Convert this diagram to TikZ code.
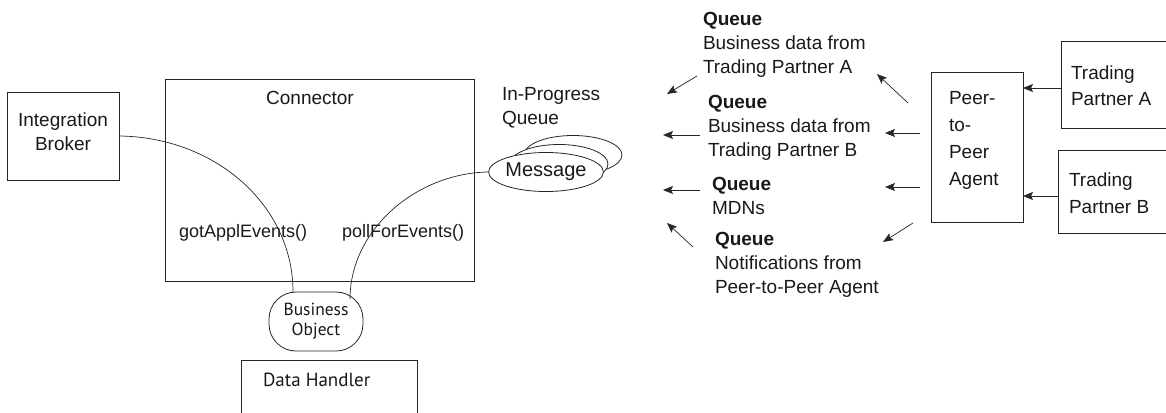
\documentclass[tikz,border=0pt]{standalone}
\usepackage{fontspec}
\setmainfont{Liberation Sans}
\newfontfamily\humfont{PT Sans}
\usetikzlibrary{arrows.meta,shapes.geometric}
\begin{document}
\begin{tikzpicture}[x=1pt,y=-1pt,
  every node/.style={inner sep=0pt, outer sep=0pt, text=black!90},
  txt/.style={font=\fontsize{19}{24}\selectfont, align=left, execute at begin node=\strut},
  box/.style={draw=black!85, line width=0.8pt},
  link/.style={draw=black!85, line width=0.7pt},
  arr/.style={link, -{Stealth[length=10pt,width=8pt,inset=2pt]}},
  msg/.style={ellipse, draw=black!85, line width=0.8pt, fill=white,
    minimum width=98pt, minimum height=39pt},
]
\useasboundingbox (0,0) rectangle (1166,412);
\clip (0,0) rectangle (1166,412);

% --- left part: broker, connector, business object, data handler
\node[box, minimum width=112pt, minimum height=88pt] (broker) at (63,136) {};
\node[txt, align=center, anchor=north] (brokerlbl) at (63,113.2) {Integration\\Broker};

\node[box, minimum width=309pt, minimum height=202pt] (conn) at (319.5,180) {};
\node[txt, anchor=north] (connlbl) at (310,87.2) {Connector};

\node[box, rounded corners=27pt, minimum width=94pt, minimum height=59pt,
      font=\humfont\fontsize{17.5}{20}\selectfont, align=center] (bo) at (316,321.5)
      {Business\\Object};

\node[box, minimum width=176pt, minimum height=70pt] (dh) at (329,395) {};
\node[font=\humfont\fontsize{19}{23}\selectfont, anchor=north west,
      execute at begin node=\strut] (dhlbl) at (263,370) {Data Handler};

\node[txt, font=\fontsize{18}{24}\selectfont, anchor=north west] (gae) at (179,220.2) {gotApplEvents()};
\node[txt, font=\fontsize{18}{24}\selectfont, anchor=north west] (pfe) at (342,220.2) {pollForEvents()};

% --- in-progress queue with stacked messages
\node[txt, anchor=north west] (ipq) at (502,87.2) {In-Progress\\Queue};
\node[msg] (m3) at (573,155) {};
\node[msg] (m2) at (559,164) {};
\node[msg, font=\fontsize{20}{24}\selectfont] (m1) at (546,172) {Message};

% --- call paths between broker, business object and message queue
\coordinate (bo-l) at ([xshift=-23pt]bo.north);
\coordinate (bo-r) at ([xshift=34pt,yshift=-7pt]bo.north);
\draw[link] (broker.east) .. controls (215,137) and (293,205) .. (bo-l);
\draw[link] (bo-r) .. controls (350,230) and (416,173) .. (m1.west);

% --- right part: queues, agent, trading partners
\node[txt, anchor=north west] (q1) at (703,12.2)
  {\textbf{Queue}\\Business data from\\Trading Partner A};
\node[txt, anchor=north west] (q2) at (708,95.2)
  {\textbf{Queue}\\Business data from\\Trading Partner B};
\node[txt, anchor=north west] (q3) at (712,177.2)
  {\textbf{Queue}\\MDNs};
\node[txt, anchor=north west] (q4) at (715,232.2)
  {\textbf{Queue}\\Notifications from\\Peer-to-Peer Agent};

\node[box, minimum width=92pt, minimum height=150pt] (agent) at (977,147) {};
\node[txt, font=\fontsize{19}{27}\selectfont, anchor=north west] (agentlbl) at (949,91.1)
  {Peer-\\to-\\Peer\\Agent};

\node[box, minimum width=119pt, minimum height=87pt] (tpa) at (1120.5,84.5) {};
\node[txt, font=\fontsize{19}{26}\selectfont, anchor=north west] (tpalbl) at (1071,65.8)
  {Trading\\Partner A};
\node[box, minimum width=122pt, minimum height=83pt] (tpb) at (1119,191.5) {};
\node[txt, font=\fontsize{19}{27}\selectfont, anchor=north west] (tpblbl) at (1069,173.1)
  {Trading\\Partner B};

\coordinate (tpa-out) at ([yshift=-3.5pt]tpa.west);
\coordinate (tpb-out) at ([yshift=-4.5pt]tpb.west);
\draw[arr] (tpa-out) -- (tpa-out -| agent.east);
\draw[arr] (tpb-out) -- (tpb-out -| agent.east);

% arrows from the agent towards the queues
\coordinate (b1s) at (908,103); \coordinate (b1e) at (877,74);
\coordinate (b2s) at (920,133); \coordinate (b2e) at (885,133);
\coordinate (b3s) at (920,187); \coordinate (b3e) at (885,187);
\coordinate (b4s) at (913,223); \coordinate (b4e) at (883,242);
\draw[arr] (b1s) -- (b1e);
\draw[arr] (b2s) -- (b2e);
\draw[arr] (b3s) -- (b3e);
\draw[arr] (b4s) -- (b4e);

% arrows leaving the queues
\coordinate (a1s) at (697,76);  \coordinate (a1e) at (667,94);
\coordinate (a2s) at (700,135); \coordinate (a2e) at (663,135);
\coordinate (a3s) at (700,190); \coordinate (a3e) at (663,190);
\coordinate (a4s) at (693,247); \coordinate (a4e) at (667,223);
\draw[arr] (a1s) -- (a1e);
\draw[arr] (a2s) -- (a2e);
\draw[arr] (a3s) -- (a3e);
\draw[arr] (a4s) -- (a4e);
\end{tikzpicture}
\end{document}
